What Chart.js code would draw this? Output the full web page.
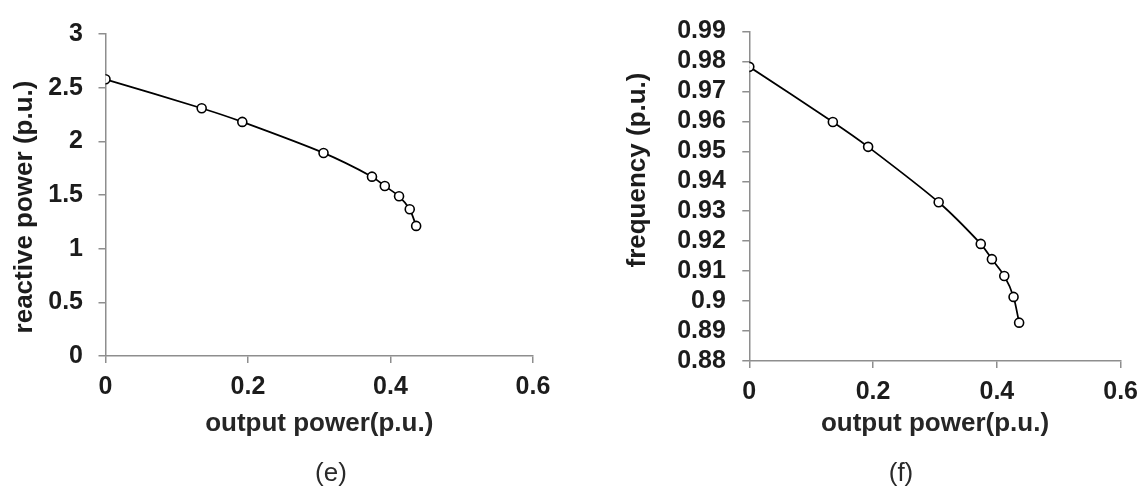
<!DOCTYPE html>
<html>
<head>
<meta charset="utf-8">
<script src="https://cdn.jsdelivr.net/npm/chart.js@4.4.1/dist/chart.umd.min.js"></script>
<style>
    html, body { margin: 0; padding: 0; background: #fff; }
    #wrap { position: relative; width: 1147px; height: 488px; }
    canvas { position: absolute; left: 0; top: 0; }
</style>
</head>
<body>
<div id="wrap">
    <canvas id="reactive-chart" width="1147" height="488"></canvas>
    <canvas id="freq-chart" width="1147" height="488"></canvas>
</div>
<script>
// values
const outputPower = [0, 0.135, 0.192, 0.306, 0.374, 0.392, 0.412, 0.427, 0.436];
const reactivePower = [2.578, 2.308, 2.181, 1.892, 1.671, 1.584, 1.488, 1.367, 1.212];
const frequency = [0.9782, 0.9598, 0.9515, 0.933, 0.9191, 0.914, 0.9084, 0.9014, 0.8928];

const xTicks = [0, 0.2, 0.4, 0.6];
const reactiveTicks = [0, 0.5, 1, 1.5, 2, 2.5, 3];
const freqTicks = [0.88, 0.89, 0.9, 0.91, 0.92, 0.93, 0.94, 0.95, 0.96, 0.97, 0.98, 0.99];

const axisGray = '#8e8e8e'
const textDark = '#1c1c1c'
const fontFamily = '"Liberation Sans", Arial, sans-serif'

const toPoints = (xs, ys) => xs.map((x, i) => ({x: x, y: ys[i]}))

// draws the rotated y title and the (e)/(f) caption
const extraText = {
    id: 'extra-text',
    afterDraw: (chart, args, opts) => {
        const ctx = chart.ctx
        ctx.save()
        ctx.fillStyle = textDark
        ctx.textAlign = 'center'
        ctx.textBaseline = 'middle'
        ctx.font = 'bold 26px ' + fontFamily
        ctx.translate(opts.yTitleX, opts.yTitleY)
        ctx.rotate(-Math.PI / 2)
        ctx.fillText(opts.yTitle, 0, 0)
        ctx.restore()

        ctx.save()
        ctx.fillStyle = '#2a2a2a'
        ctx.textAlign = 'center'
        ctx.textBaseline = 'middle'
        ctx.font = '26px ' + fontFamily
        ctx.fillText(opts.caption, opts.captionX, opts.captionY)
        ctx.restore()
    }
}

const make_chart = (canvas_id, yValues, yTicks, box, text) => {
    let ctx = document.getElementById(canvas_id)
    return new Chart(ctx, {
        type: 'line',
        data: {
            datasets: [{
                data: toPoints(outputPower, yValues),
                borderColor: '#000',
                borderWidth: 1.75,
                tension: 0.25,
                pointRadius: 4.5,
                pointBorderWidth: 1.6,
                pointBackgroundColor: '#fff',
                pointBorderColor: '#000',
                fill: false,
            }]
        },
        options: {
            responsive: false,
            animation: false,
            events: [],
            layout: {
                padding: {left: 0, top: box.top, right: 1147 - box.right, bottom: 0}
            },
            plugins: {
                legend: {display: false},
                tooltip: {enabled: false},
                'extra-text': text,
            },
            scales: {
                x: {
                    type: 'linear',
                    min: xTicks[0],
                    max: xTicks[xTicks.length - 1],
                    afterBuildTicks: (s) => { s.ticks = xTicks.map(v => ({value: v})) },
                    afterFit: (s) => { s.height = 488 - box.bottom },
                    grid: {drawOnChartArea: false, color: axisGray, lineWidth: 1.5, tickLength: 7},
                    border: {color: axisGray, width: 1.5},
                    ticks: {
                        color: textDark,
                        padding: 9,
                        maxRotation: 0,
                        autoSkip: false,
                        font: {family: fontFamily, size: 25, weight: 'bold'},
                        callback: (v) => String(v)
                    },
                    title: {
                        display: true,
                        text: 'output power(p.u.)',
                        color: '#262626',
                        font: {family: fontFamily, size: 26, weight: 'bold'},
                        padding: {top: 0, bottom: 49}
                    }
                },
                y: {
                    type: 'linear',
                    min: yTicks[0],
                    max: yTicks[yTicks.length - 1],
                    afterBuildTicks: (s) => { s.ticks = yTicks.map(v => ({value: v})) },
                    afterFit: (s) => { s.width = box.left },
                    grid: {drawOnChartArea: false, color: axisGray, lineWidth: 1.5, tickLength: 7},
                    border: {color: axisGray, width: 1.5},
                    ticks: {
                        color: textDark,
                        padding: box.tickPad,
                        autoSkip: false,
                        font: {family: fontFamily, size: 25, weight: 'bold'},
                        callback: (v) => String(v)
                    }
                }
            }
        },
        plugins: [extraText]
    })
}

make_chart('reactive-chart', reactivePower, reactiveTicks,
    {left: 105.5, right: 533, top: 34, bottom: 356, tickPad: 15.5},
    {yTitle: 'reactive power (p.u.)', yTitleX: 25, yTitleY: 207, caption: '(e)', captionX: 331, captionY: 474})

make_chart('freq-chart', frequency, freqTicks,
    {left: 749.3, right: 1124, top: 19.3, bottom: 361, tickPad: 16.5},
    {yTitle: 'frequency (p.u.)', yTitleX: 638, yTitleY: 170, caption: '(f)', captionX: 901, captionY: 474})
</script>
</body>
</html>
